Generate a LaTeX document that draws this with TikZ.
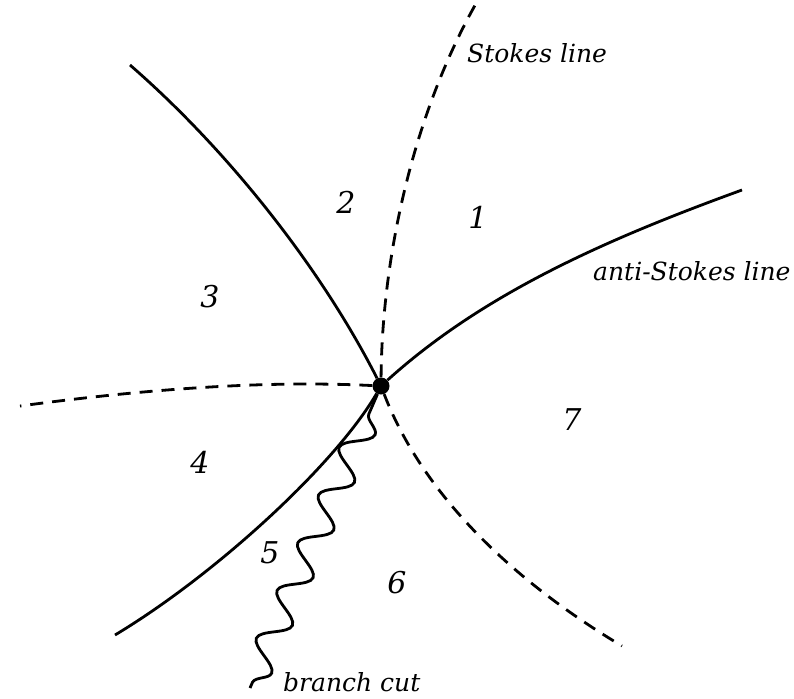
\documentclass[tikz,border=0pt]{standalone}
\usepackage{fontspec}
\setmainfont{DejaVu Serif}
\usepackage{tikz}
\usetikzlibrary{decorations.pathmorphing}

\begin{document}
\begin{tikzpicture}[
	x=1pt, y=-1pt,
	region/.style={font=\fontsize{30}{36}\selectfont\itshape, inner sep=0pt},
	tag/.style={font=\fontsize{25}{30}\selectfont\itshape, inner sep=0pt, anchor=west},
	antistokes/.style={line width=2.8pt},
	stokes/.style={line width=2.8pt, dash pattern=on 13pt off 9pt},
	cut/.style={line width=2.8pt, decorate, decoration={snake, amplitude=14pt, segment length=52pt, pre length=22pt, post length=2pt}}
]
\useasboundingbox (0,0) rectangle (794,698);

\node[circle, fill, inner sep=0pt, minimum size=17pt] (sp) at (381,386) {};

\coordinate (nw) at (130,65);
\coordinate (ne) at (742,190);
\coordinate (sw) at (115,635);
\coordinate (n) at (478,0);
\coordinate (w) at (20,406);
\coordinate (se) at (622,646);
\coordinate (cutend) at (250,688);

\node[region] (r1) at (478,217) {1};
\node[region] (r2) at (346,202) {2};
\node[region] (r3) at (210,297) {3};
\node[region] (r4) at (200,462) {4};
\node[region] (r5) at (270,553) {5};
\node[region] (r6) at (397,583) {6};
\node[region] (r7) at (572,420) {7};

\node[tag] (stokeslbl) at (467,53) {Stokes line};
\node[tag] (antilbl) at (593,271) {anti-Stokes line};
\node[tag] (cutlbl) at (283,682) {branch cut};

% anti-Stokes lines
\draw[antistokes] (sp) .. controls (322,270) and (230,152) .. (nw);
\draw[antistokes] (sp) .. controls (485,292) and (610,238) .. (ne);
\draw[antistokes] (sp) .. controls (335,465) and (215,575) .. (sw);

% Stokes lines
\draw[stokes] (sp) .. controls (382,260) and (412,115) .. (n);
\draw[stokes] (sp) .. controls (261,380) and (139,390) .. (w);
\draw[stokes] (sp) .. controls (425,500) and (520,585) .. (se);

% branch cut
\draw[cut] (sp) -- (cutend);

\end{tikzpicture}
\end{document}
